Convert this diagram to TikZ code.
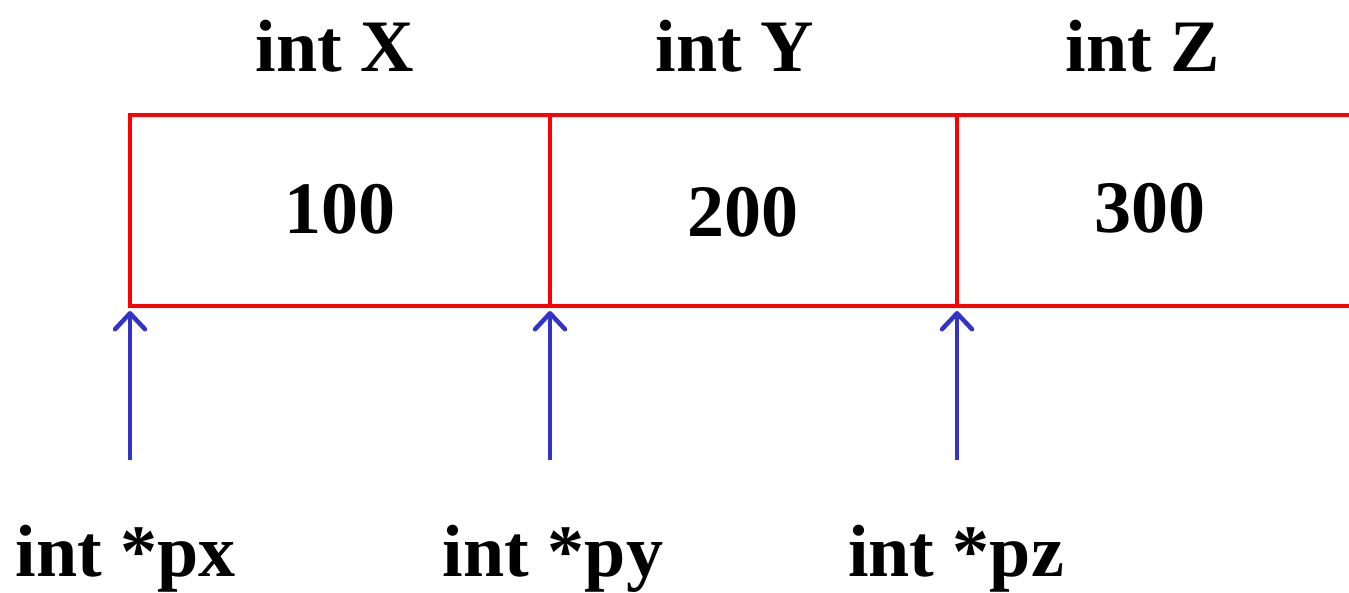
\documentclass[tikz,border=0pt]{standalone}
\usepackage{fontspec}
\setmainfont{Liberation Serif}
\usetikzlibrary{arrows.meta}
\definecolor{cellred}{RGB}{255,0,0}
\definecolor{ptrblue}{RGB}{51,51,204}
\tikzset{
  lbl/.style={font=\fontsize{74}{88}\selectfont\bfseries, anchor=base, inner sep=0pt},
  cellline/.style={draw=cellred, line width=4.5pt},
  ptr/.style={draw=ptrblue, line width=4.5pt, -{Straight Barb[length=16pt,width=30pt,line width=4.5pt,round]}}
}
\begin{document}
\begin{tikzpicture}[x=1pt,y=-1pt]
\useasboundingbox (0,0) rectangle (1349,592);
% cell outline
\coordinate (tl) at (130,115);
\coordinate (tr) at (1349,115);
\coordinate (bl) at (130,306);
\coordinate (br) at (1349,306);
\coordinate (t1) at (550,115);
\coordinate (b1) at (550,306);
\coordinate (t2) at (957,115);
\coordinate (b2) at (957,306);
\draw[cellline] (tr) -- (tl) -- (bl) -- (br);
\draw[cellline] (t1) -- (b1);
\draw[cellline] (t2) -- (b2);
% labels
\node[lbl] (ix) at (335,71) {int X};
\node[lbl] (iy) at (735,71) {int Y};
\node[lbl] (iz) at (1143,71) {int Z};
\node[lbl] (v1) at (340,233) {100};
\node[lbl] (v2) at (743,236) {200};
\node[lbl] (v3) at (1150,232) {300};
\node[lbl] (px) at (126,576) {int *px};
\node[lbl] (py) at (553,576) {int *py};
\node[lbl] (pz) at (956,576) {int *pz};
% pointers
\coordinate (s1) at (130,460);
\coordinate (s2) at (550,460);
\coordinate (s3) at (957,460);
\coordinate (e1) at (130,311);
\coordinate (e2) at (550,311);
\coordinate (e3) at (957,311);
\draw[ptr] (s1) -- (e1);
\draw[ptr] (s2) -- (e2);
\draw[ptr] (s3) -- (e3);
\end{tikzpicture}
\end{document}
